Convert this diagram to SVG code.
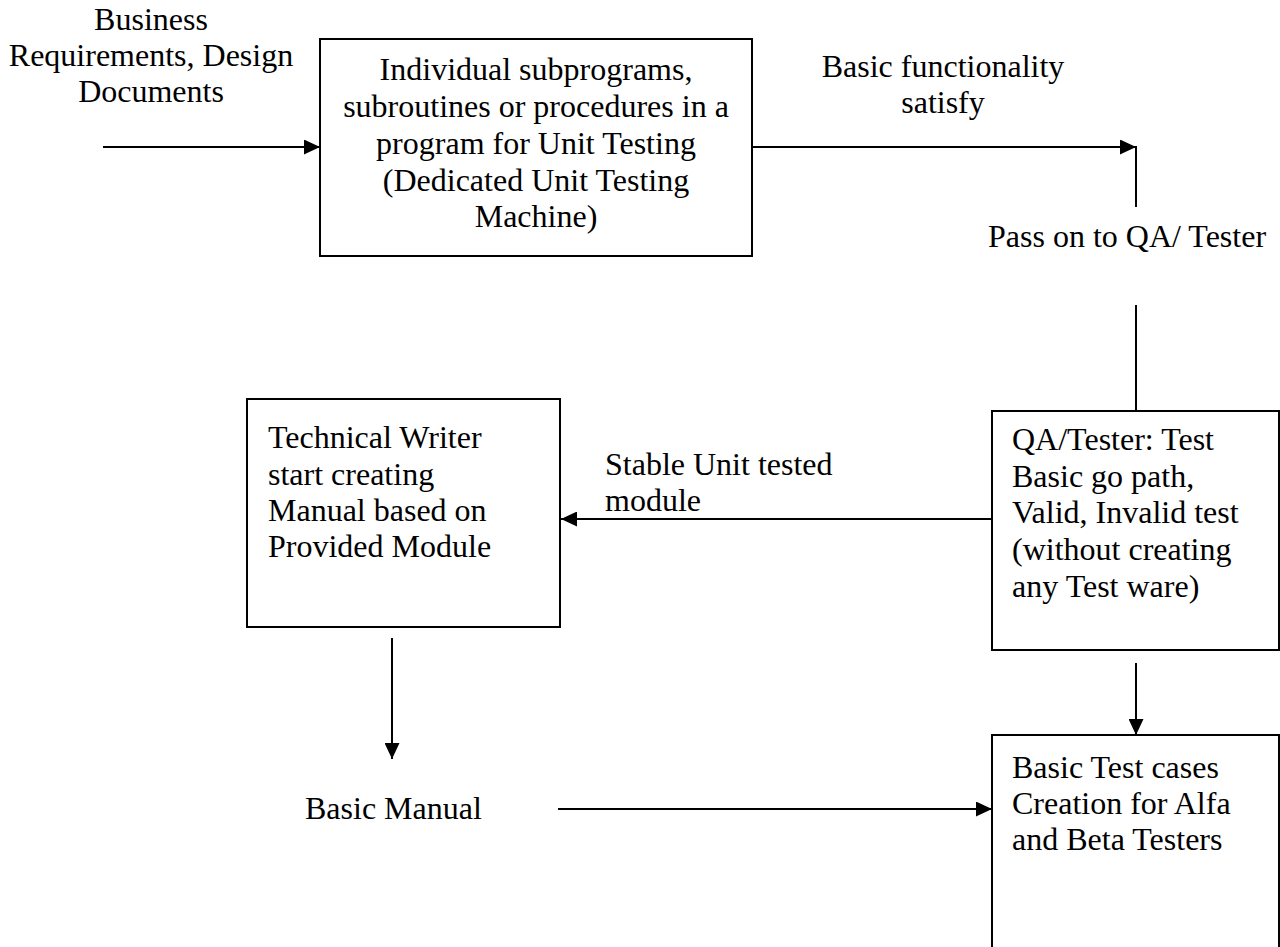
<svg xmlns="http://www.w3.org/2000/svg" width="1280" height="947" viewBox="0 0 1280 947">
<style>
text{font-family:"Liberation Serif","Times New Roman",serif;font-size:32px;fill:#000}
.c{text-anchor:middle}
.box{fill:#fff;stroke:#000;stroke-width:2}
.ln{fill:none;stroke:#000;stroke-width:2}
.ar{marker-end:url(#ah)}
</style>
<defs>
<marker id="ah" markerUnits="userSpaceOnUse" markerWidth="16" markerHeight="15" refX="16" refY="7.5" orient="auto">
<path d="M0,0 L16,7.5 L0,15 z" fill="#000"/>
</marker>
</defs>
<rect width="1280" height="947" fill="#fff"/>
<g id="connectors">
<line class="ln ar" x1="103" y1="147" x2="320" y2="147"/>
<line class="ln ar" x1="752" y1="147" x2="1136" y2="147"/>
<line class="ln" x1="1136" y1="146" x2="1136" y2="207"/>
<line class="ln" x1="1136" y1="305" x2="1136" y2="411"/>
<line class="ln ar" x1="992" y1="519" x2="561" y2="519"/>
<line class="ln ar" x1="392" y1="638" x2="392" y2="759"/>
<line class="ln ar" x1="1136" y1="663" x2="1136" y2="735"/>
<line class="ln ar" x1="558" y1="809" x2="992" y2="809"/>
</g>
<g id="label-business">
<text class="c" x="151" y="30">Business</text>
<text class="c" x="151" y="66">Requirements, Design</text>
<text class="c" x="151" y="102">Documents</text>
</g>
<g id="node-unit">
<rect class="box" x="320" y="39" width="432" height="217"/>
<text class="c" x="536" y="80">Individual subprograms,</text>
<text class="c" x="536" y="117">subroutines or procedures in a</text>
<text class="c" x="536" y="154">program for Unit Testing</text>
<text class="c" x="536" y="191">(Dedicated Unit Testing</text>
<text class="c" x="536" y="227">Machine)</text>
</g>
<g id="label-basic-func">
<text class="c" x="943" y="77">Basic functionality</text>
<text class="c" x="943" y="113">satisfy</text>
</g>
<g id="label-pass">
<text x="988" y="247">Pass on to QA/ Tester</text>
</g>
<g id="node-qa">
<rect class="box" x="992" y="411" width="287" height="239"/>
<text x="1012" y="450">QA/Tester: Test</text>
<text x="1012" y="487">Basic go path,</text>
<text x="1012" y="523">Valid, Invalid test</text>
<text x="1012" y="560">(without creating</text>
<text x="1012" y="597">any Test ware)</text>
</g>
<g id="label-stable">
<text x="605" y="475">Stable Unit tested</text>
<text x="605" y="511">module</text>
</g>
<g id="node-writer">
<rect class="box" x="247" y="399" width="313" height="228"/>
<text x="268" y="448">Technical Writer</text>
<text x="268" y="485">start creating</text>
<text x="268" y="521">Manual based on</text>
<text x="268" y="557">Provided Module</text>
</g>
<g id="label-manual">
<text x="305" y="819">Basic Manual</text>
</g>
<g id="node-testcases">
<path class="box" d="M992,950 L992,735 L1279,735 L1279,950"/>
<text x="1012" y="778">Basic Test cases</text>
<text x="1012" y="814">Creation for Alfa</text>
<text x="1012" y="850">and Beta Testers</text>
</g>
</svg>
